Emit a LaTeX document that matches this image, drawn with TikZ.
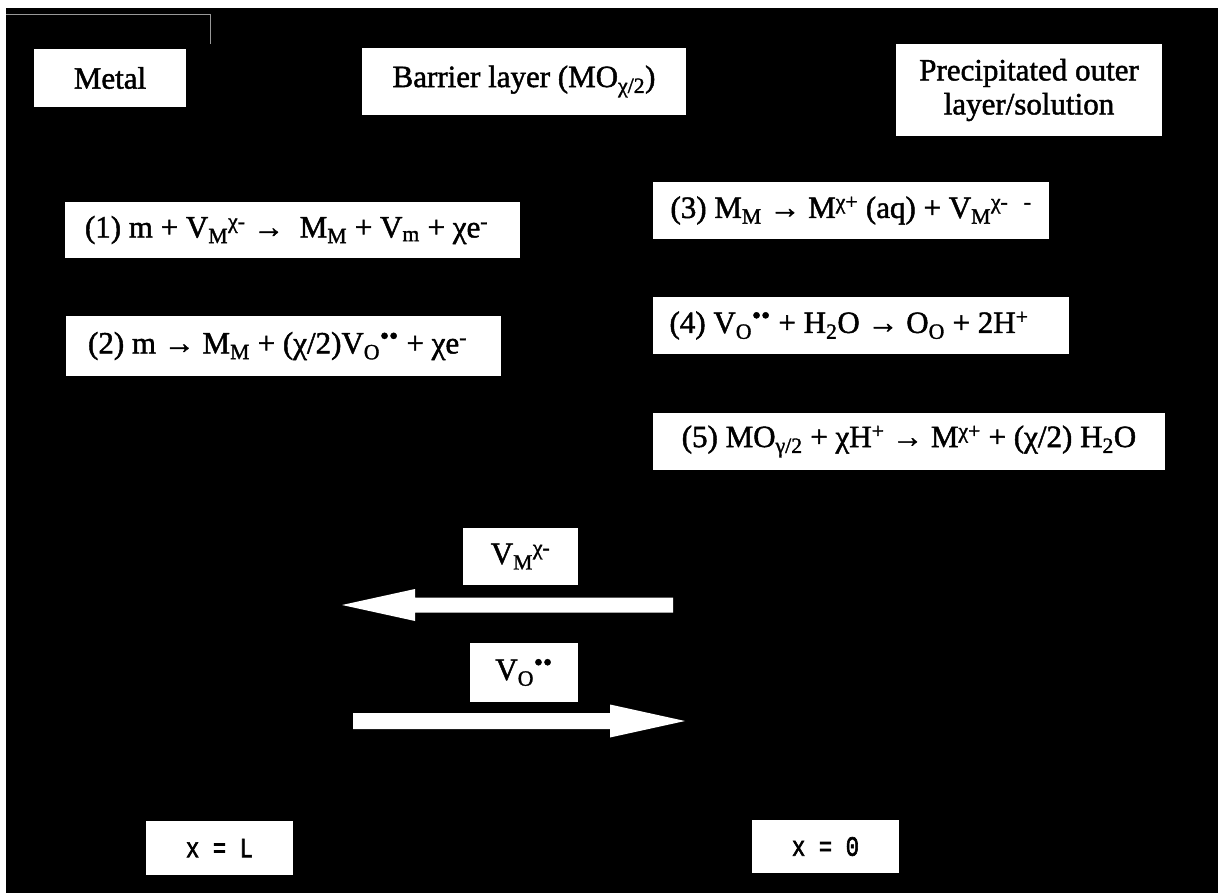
\documentclass[tikz,border=0pt]{standalone}
\usepackage{fontspec}
\setmainfont{Liberation Serif}[FakeBold=1.5]
\newfontfamily\monofnt{Liberation Mono}[FakeStretch=0.8, FakeBold=2]
\newcommand{\dotsup}{\textsuperscript{{\fontsize{26}{26}\selectfont ••}}}
\tikzset{
  lbl/.style={fill=white, inner sep=0pt, text=black, align=center,
    font=\fontsize{31}{34}\selectfont},
  posbox/.style={lbl, font=\monofnt\fontsize{28}{30}\selectfont},
  flow/.style={fill=white},
}
\begin{document}
\begin{tikzpicture}[x=1pt,y=-1pt]
\fill[white] (0,0) rectangle (1218,893);
\fill[black] (6,8) rectangle (1218,893);
\draw[white!60!black, line width=0.8pt] (6,14) -- (210,14) -- (210,44);
% layer labels
\node[lbl, minimum width=152pt, minimum height=58pt] (metal) at (110,78) {Metal};
\node[lbl, minimum width=324pt, minimum height=67pt] (barrier) at (524,81.5) {Barrier layer (MO\textsubscript{χ/2})};
\node[lbl, minimum width=266pt, minimum height=92pt] (precip) at (1029,90) {Precipitated outer\\layer/solution};
% reactions
\node[lbl, minimum width=455pt, minimum height=56pt] (eq1) at (292.5,230) {(1) m + V\textsubscript{M}\textsuperscript{χ-} →\ \ M\textsubscript{M} + V\textsubscript{m} + χe\textsuperscript{-}\hspace{12pt}};
\node[lbl, minimum width=435pt, minimum height=60pt] (eq2) at (283.5,346) {(2) m → M\textsubscript{M} + (χ/2)V\textsubscript{O}\dotsup{} + χe\textsuperscript{-}\hspace{12pt}};
\node[lbl, minimum width=396pt, minimum height=57pt] (eq3) at (851,210.5) {(3) M\textsubscript{M} → M\textsuperscript{χ+} (aq) + V\textsubscript{M}\textsuperscript{χ-}\ \ \textsuperscript{-}};
\node[lbl, minimum width=416pt, minimum height=57pt] (eq4) at (861,325.5) {(4) V\textsubscript{O}\dotsup{} + H\textsubscript{2}O → O\textsubscript{O} + 2H\textsuperscript{+}\hspace{24pt}};
\node[lbl, minimum width=512pt, minimum height=57pt] (eq5) at (909,441.5) {(5) MO\textsubscript{γ/2} + χH\textsuperscript{+} → M\textsuperscript{χ+} + (χ/2) H\textsubscript{2}O};
% fluxes
\node[lbl, minimum width=115pt, minimum height=57pt] (vm) at (520.5,556.5) {V\textsubscript{M}\textsuperscript{χ-}};
\node[lbl, minimum width=108pt, minimum height=59pt] (vo) at (524,672.5) {V\textsubscript{O}\dotsup};
\coordinate (vmtail) at (673,605);
\coordinate (vmtip) at (342,605);
\coordinate (votail) at (353,721);
\coordinate (votip) at (685,721);
\fill[flow] (vmtail) ++(0,-7.5) -- ++(-258,0) -- ++(0,-8.5) -- (vmtip)
  -- ++(73,16) -- ++(0,-8.5) -- ++(258,0) -- cycle;
\fill[flow] (votail) ++(0,-8) -- ++(257,0) -- ++(0,-8.5) -- (votip)
  -- ++(-75,16.5) -- ++(0,-8.5) -- ++(-257,0) -- cycle;
% positions
\node[posbox, minimum width=147pt, minimum height=54pt] (xL) at (219.5,848) {x = L};
\node[posbox, minimum width=147pt, minimum height=53pt] (x0) at (825.5,846.5) {x = 0};
\end{tikzpicture}
\end{document}
